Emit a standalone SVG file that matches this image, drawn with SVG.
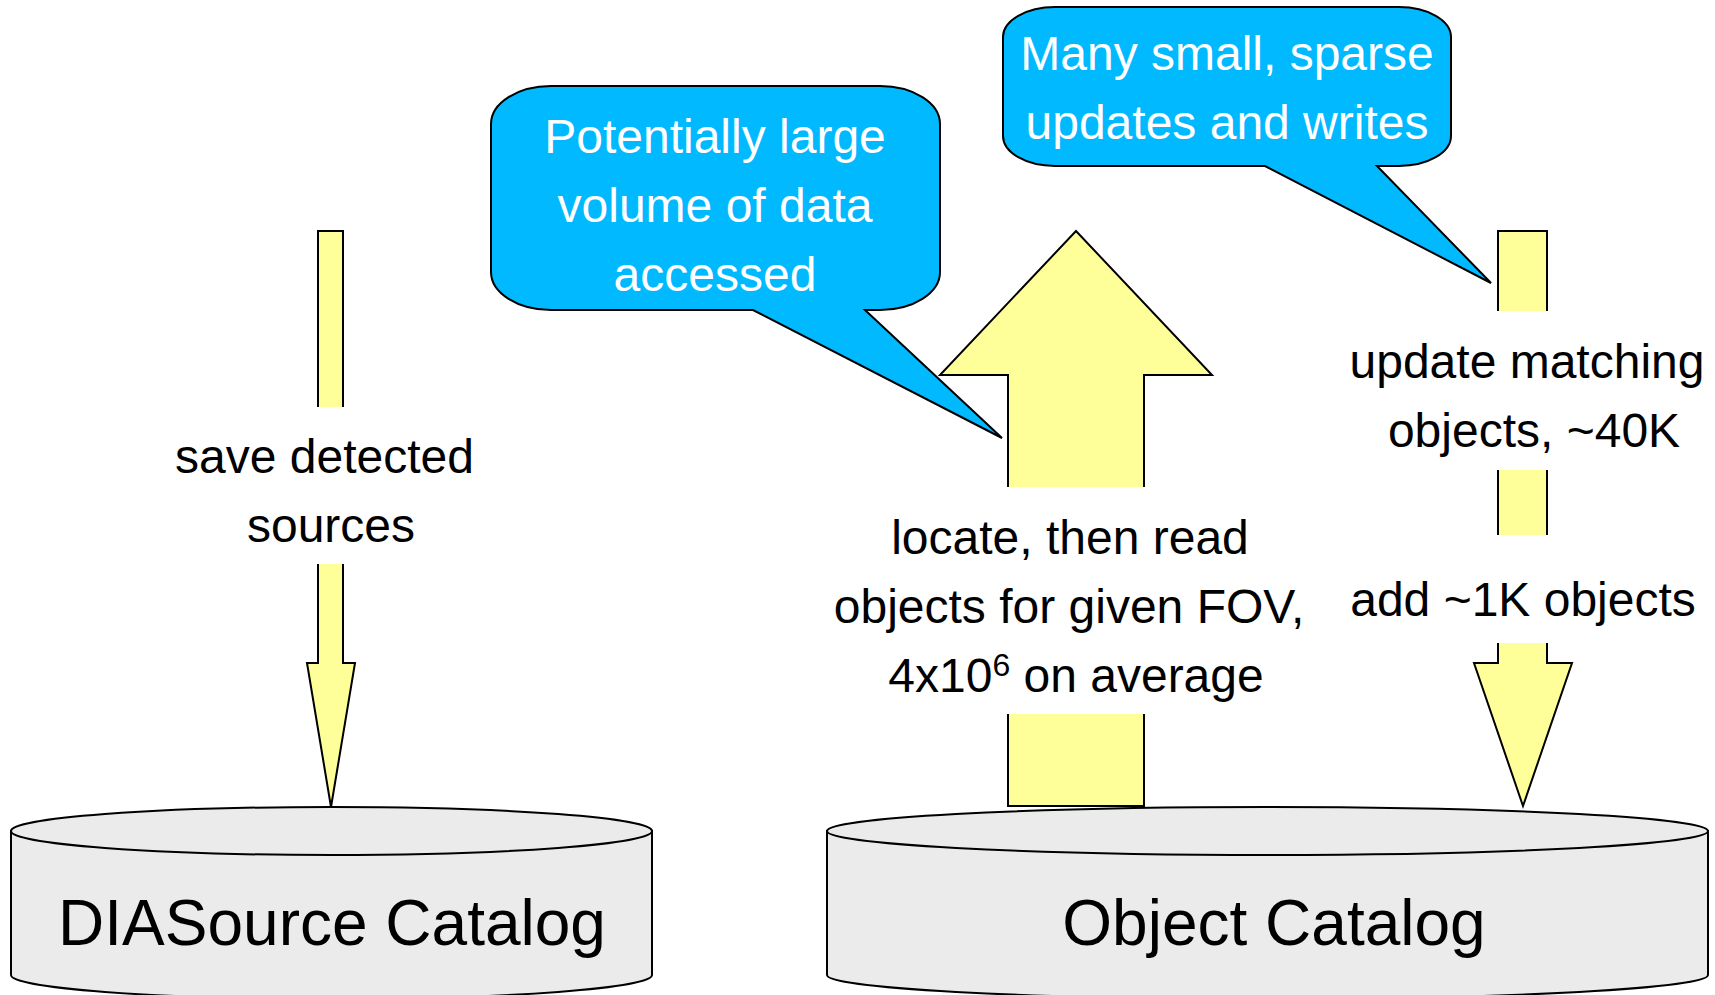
<svg xmlns="http://www.w3.org/2000/svg" width="1715" height="995" viewBox="0 0 1715 995">
  <style>
    .flow { fill: #FFFF99; stroke: #000; stroke-width: 2; stroke-linejoin: miter; }
    .gap { fill: #FFFFFF; stroke: none; }
    .callout { fill: #00B9FF; stroke: #000; stroke-width: 2; stroke-linejoin: miter; }
    .db { fill: #EBEBEB; stroke: #000; stroke-width: 2; }
    text { font-family: "Liberation Sans", Arial, sans-serif; text-anchor: middle; }
    .lbl { font-size: 48px; fill: #000; }
    .note { font-size: 48px; fill: #FFFFFF; }
    .dbname { font-size: 64px; fill: #000; }
  </style>

  <!-- flow arrows with their labels -->
  <g id="connectors">
    <g id="save-sources">
      <path class="flow" d="M318,231 H343 V663 H355 L331,807 L307,663 H318 Z"/>
      <rect class="gap" x="300" y="407" width="70" height="157"/>
      <text class="lbl" x="324.5" y="473">save detected</text>
      <text class="lbl" x="331" y="542">sources</text>
    </g>
    <g id="read-objects">
      <path class="flow" d="M1076,231 L1212,375 H1144 V806 H1008 V375 H940 Z"/>
      <rect class="gap" x="995" y="487" width="160" height="227"/>
      <text class="lbl" x="1070" y="554">locate, then read</text>
      <text class="lbl" x="1069" y="623">objects for given FOV,</text>
      <text class="lbl" x="1076" y="692">4x10<tspan font-size="32" dy="-16">6</tspan><tspan dy="16"> on average</tspan></text>
    </g>
    <g id="update-objects">
      <path class="flow" d="M1498,231 H1547 V663 H1572 L1523,806 L1474,663 H1498 Z"/>
      <rect class="gap" x="1488" y="311" width="70" height="159"/>
      <rect class="gap" x="1488" y="535" width="70" height="108"/>
      <text class="lbl" x="1527" y="378">update matching</text>
      <text class="lbl" x="1534" y="447">objects, ~40K</text>
      <text class="lbl" x="1523" y="616">add ~1K objects</text>
    </g>
  </g>

  <!-- DIASource catalog -->
  <g id="diasource-catalog">
    <path class="db" d="M11,831 V975 A320.5,24 0 0 0 652,975 V831 Z"/>
    <ellipse class="db" cx="331.5" cy="831" rx="320.5" ry="24"/>
    <text class="dbname" x="332" y="945">DIASource Catalog</text>
  </g>

  <!-- Object catalog -->
  <g id="object-catalog">
    <path class="db" d="M827,831 V975 A440.5,24 0 0 0 1708,975 V831 Z"/>
    <ellipse class="db" cx="1267.5" cy="831" rx="440.5" ry="24"/>
    <text class="dbname" x="1274" y="945">Object Catalog</text>
  </g>

  <!-- callout on the read path -->
  <g id="note-volume">
    <path class="callout" d="M551,86 H880 A60,38 0 0 1 940,124 V272 A60,38 0 0 1 880,310 H865 L1002,438 L753,310 H551 A60,38 0 0 1 491,272 V124 A60,38 0 0 1 551,86 Z"/>
    <text class="note" x="715" y="153">Potentially large</text>
    <text class="note" x="715" y="222">volume of data</text>
    <text class="note" x="715" y="291">accessed</text>
  </g>

  <!-- callout on the update path -->
  <g id="note-updates">
    <path class="callout" d="M1055,7 H1399 A52,30 0 0 1 1451,37 V136 A52,30 0 0 1 1399,166 H1377 L1491,283 L1265,166 H1055 A52,30 0 0 1 1003,136 V37 A52,30 0 0 1 1055,7 Z"/>
    <text class="note" x="1227" y="70">Many small, sparse</text>
    <text class="note" x="1227" y="139">updates and writes</text>
  </g>
</svg>
